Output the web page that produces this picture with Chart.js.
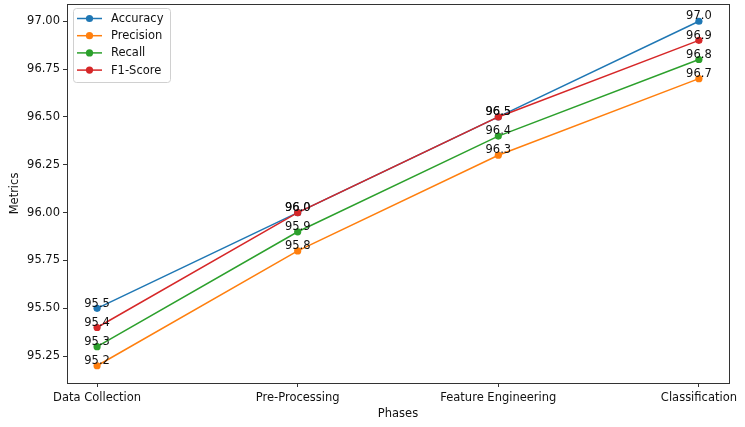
<!DOCTYPE html>
<html><head><meta charset="utf-8">
<script src="https://cdn.jsdelivr.net/npm/chart.js@4/dist/chart.umd.min.js"></script>
<style>html,body{margin:0;padding:0;background:#fff}#wrap{width:745px;height:427px}</style>
</head><body><div id="wrap"><canvas id="c"></canvas></div>
<script>
const categories = ['Data Collection', 'Pre-Processing', 'Feature Engineering', 'Classification'];
const accuracy = [95.5, 96.0, 96.5, 97.0];
const precision = [95.2, 95.8, 96.3, 96.7];
const recall = [95.3, 95.9, 96.4, 96.8];
const f1Score = [95.4, 96.0, 96.5, 96.9];
const seriesNames = ['Accuracy', 'Precision', 'Recall', 'F1-Score'];
const yTicks = [95.25, 95.5, 95.75, 96.0, 96.25, 96.5, 96.75, 97.0];
const colors = ['#1f77b4', '#ff7f0e', '#2ca02c', '#d62728'];
const FONT = 'DejaVu Sans';

const seriesValues = [accuracy, precision, recall, f1Score];
const datasets = seriesValues.map((vals, k) => ({
  label: seriesNames[k],
  data: vals.map((v, i) => ({x: i, y: v})),
  borderColor: colors[k],
  backgroundColor: colors[k],
  borderWidth: 1.5,
  pointRadius: 3.6,
  pointHoverRadius: 3.6,
  pointBorderWidth: 0,
  tension: 0,
  order: seriesValues.length - k
}));

const overlay = {
  id: 'overlay',
  afterDatasetsDraw(chart) {
    const ctx = chart.ctx;
    const a = chart.chartArea;
    ctx.save();
    ctx.strokeStyle = '#333';
    ctx.lineWidth = 1;
    ctx.strokeRect(Math.round(a.left) + 0.5, Math.round(a.top) + 0.5, Math.round(a.right - a.left), Math.round(a.bottom - a.top));
    ctx.font = '11.5px "' + FONT + '"';
    ctx.fillStyle = '#111';
    ctx.textAlign = 'center';
    ctx.textBaseline = 'bottom';
    chart.data.datasets.forEach((ds, k) => {
      const meta = chart.getDatasetMeta(k);
      meta.data.forEach((pt, i) => {
        ctx.fillText(ds.data[i].y.toFixed(1), pt.x, pt.y + 1);
      });
    });
    const lx = a.left + 6, ly = a.top + 4, lw = 97, lh = 74;
    ctx.beginPath();
    if (ctx.roundRect) ctx.roundRect(lx + 0.5, ly + 0.5, lw, lh, 3); else ctx.rect(lx + 0.5, ly + 0.5, lw, lh);
    ctx.fillStyle = 'rgba(255,255,255,0.8)';
    ctx.fill();
    ctx.strokeStyle = '#d0d0d0';
    ctx.stroke();
    ctx.textAlign = 'left';
    ctx.textBaseline = 'middle';
    chart.data.datasets.forEach((ds, k) => {
      const y = ly + 10.5 + k * 17.2;
      ctx.strokeStyle = ds.borderColor;
      ctx.lineWidth = 1.5;
      ctx.beginPath();
      ctx.moveTo(lx + 4, y);
      ctx.lineTo(lx + 29, y);
      ctx.stroke();
      ctx.fillStyle = ds.borderColor;
      ctx.beginPath();
      ctx.arc(lx + 16.5, y, 3.6, 0, Math.PI * 2);
      ctx.fill();
      ctx.fillStyle = '#111';
      ctx.fillText(ds.label, lx + 38, y + 0.5);
    });
    ctx.restore();
  }
};

new Chart(document.getElementById('c'), {
  type: 'line',
  data: {datasets},
  plugins: [overlay],
  options: {
    responsive: true,
    maintainAspectRatio: false,
    animation: false,
    events: [],
    layout: {padding: {left: 0, right: 16, top: 4, bottom: 0}},
    plugins: {legend: {display: false}, tooltip: {enabled: false}},
    scales: {
      x: {
        type: 'linear',
        min: -0.15,
        max: 3.15,
        afterBuildTicks: (s) => { s.ticks = categories.map((c, i) => ({value: i})); },
        afterFit: (s) => { s.height = 44; s.paddingLeft = 0; s.paddingRight = 0; },
        ticks: {
          callback: (v) => categories[v] ?? '',
          font: {family: FONT, size: 11.5},
          color: '#111',
          padding: 4,
          maxRotation: 0,
          autoSkip: false
        },
        grid: {display: true, drawOnChartArea: false, drawTicks: true, tickLength: 4, color: '#333'},
        border: {display: false},
        title: {display: true, text: 'Phases', font: {family: FONT, size: 11.5}, color: '#111', padding: {top: 2, bottom: 6}}
      },
      y: {
        type: 'linear',
        min: 95.11,
        max: 97.09,
        afterBuildTicks: (s) => { s.ticks = yTicks.map(v => ({value: v})); },
        afterFit: (s) => { s.width = 67; s.paddingTop = 0; s.paddingBottom = 0; },
        ticks: {
          callback: (v) => v.toFixed(2),
          font: {family: FONT, size: 11.5},
          color: '#111',
          padding: 3
        },
        grid: {display: true, drawOnChartArea: false, drawTicks: true, tickLength: 4, color: '#333'},
        border: {display: false},
        title: {display: true, text: 'Metrics', font: {family: FONT, size: 11.5}, color: '#111', padding: {top: 8, bottom: 4}}
      }
    }
  }
});
</script></body></html>
